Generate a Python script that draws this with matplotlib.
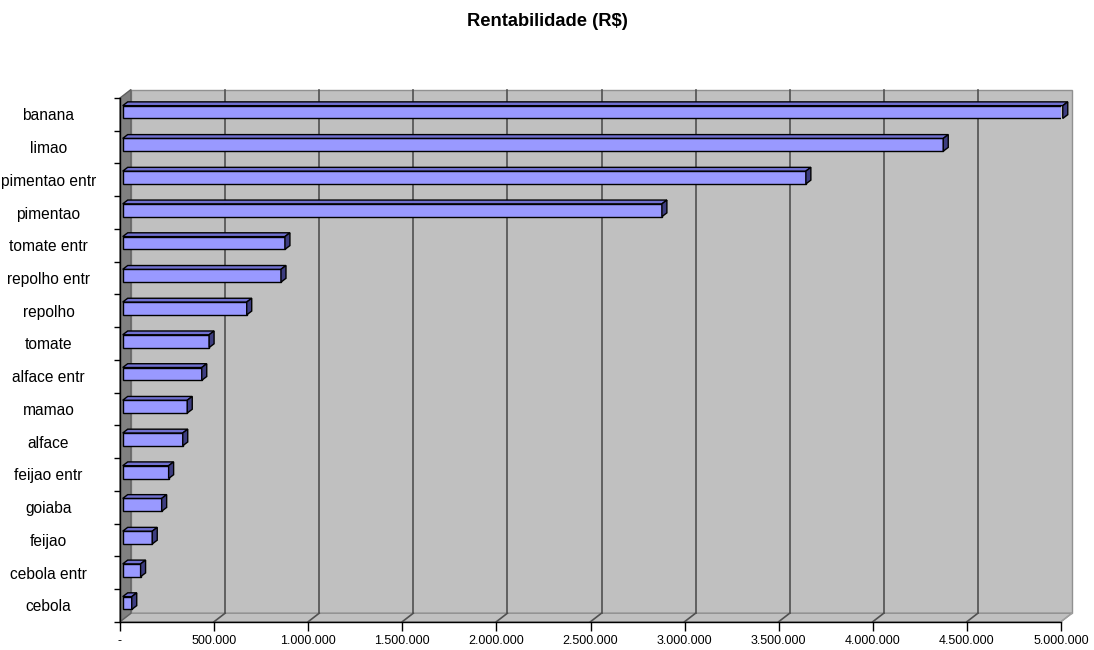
import matplotlib.pyplot as plt
from matplotlib.patches import Polygon

# data (top to bottom as shown in the chart)
culturas = ['banana', 'limao', 'pimentao entr', 'pimentao', 'tomate entr',
            'repolho entr', 'repolho', 'tomate', 'alface entr', 'mamao',
            'alface', 'feijao entr', 'goiaba', 'feijao', 'cebola entr', 'cebola']
rentabilidade = [4995000, 4360000, 3630000, 2865000, 862000,
                 841000, 659000, 459000, 420000, 343000,
                 319000, 244000, 207000, 157000, 95000, 48000]
xticks = [0, 500000, 1000000, 1500000, 2000000, 2500000,
          3000000, 3500000, 4000000, 4500000, 5000000]

plt.rcParams['font.family'] = ['Liberation Sans', 'DejaVu Sans']

fig = plt.figure(figsize=(10.94, 6.5), dpi=100)
W, H = 1094, 650
# front plane of the plot, in pixels
x0, x1, ybot, ytop = 120, 1061, 621.7, 98
ax = fig.add_axes([x0 / W, (H - ybot) / H, (x1 - x0) / W, (ybot - ytop) / H])
xmax = 5000000
n = len(culturas)
ax.set_xlim(0, xmax)
ax.set_ylim(0, n)
ax.patch.set_visible(False)

# pixel -> data helpers
sx = xmax / (x1 - x0)
sy = n / (ybot - ytop)
DX, DY = 11 * sx, 8.5 * sy          # full depth of the 3d box
OX, OY = 2.7 * sx, 2.3 * sy          # bar front offset
BX, BY = 5 * sx, 3.8 * sy            # bar depth
bh = 12.8 * sy                        # bar height

# back wall
ax.add_patch(Polygon([(DX, DY), (xmax + DX, DY), (xmax + DX, n + DY), (DX, n + DY)],
                     closed=True, facecolor='#C0C0C0', edgecolor='#909090', lw=1,
                     clip_on=False, zorder=0))
# floor
ax.add_patch(Polygon([(0, 0), (xmax, 0), (xmax + DX, DY), (DX, DY)],
                     closed=True, facecolor='#C0C0C0', edgecolor='#909090', lw=1,
                     clip_on=False, zorder=0))
# left side wall
ax.add_patch(Polygon([(0, 0), (DX, DY), (DX, n + DY), (0, n)],
                     closed=True, facecolor='#808080', edgecolor='#606060', lw=1,
                     clip_on=False, zorder=1))

# gridlines on the back wall + floor
for v in xticks[1:-1]:
    ax.plot([v + DX, v + DX], [DY, n + DY], color='#505050', lw=1.2, zorder=1, clip_on=False)
    ax.plot([v, v + DX], [0, DY], color='#505050', lw=1.2, zorder=1, clip_on=False)
ax.plot([xmax, xmax + DX], [0, DY], color='#A0A0A0', lw=1, zorder=1, clip_on=False)

# bars: front face, top face and side face
vals = rentabilidade[::-1]
for i, v in enumerate(vals):
    yb = i + 0.5 - bh / 2 + OY
    yt = yb + bh
    ax.barh(yb, v, left=OX, height=bh, align='edge', color='#9999FF',
            edgecolor='black', lw=1, zorder=3)
    ax.add_patch(Polygon([(OX, yt), (OX + v, yt), (OX + v + BX, yt + BY), (OX + BX, yt + BY)],
                         closed=True, facecolor='#7070D0', edgecolor='black', lw=1,
                         zorder=3, clip_on=False))
    ax.add_patch(Polygon([(OX + v, yb), (OX + v + BX, yb + BY), (OX + v + BX, yt + BY), (OX + v, yt)],
                         closed=True, facecolor='#3D3D80', edgecolor='black', lw=1,
                         zorder=3, clip_on=False))

# axes
for s in ['top', 'right']:
    ax.spines[s].set_visible(False)
for s in ['bottom', 'left']:
    ax.spines[s].set_color('black')
    ax.spines[s].set_linewidth(1)
    ax.spines[s].set_zorder(5)

ax.set_xticks(xticks)
ax.set_xticklabels(['-'] + [f'{v:,.0f}'.replace(',', '.') for v in xticks[1:]], fontsize=9)
ax.tick_params(axis='x', direction='out', length=6.5, width=1, color='black', pad=3)

ax.set_yticks([i + 0.5 for i in range(n)])
ax.set_yticklabels(culturas[::-1], fontsize=11.2, ha='center')
ax.set_yticks(range(n + 1), minor=True)
ax.tick_params(axis='y', which='major', length=0, pad=51.5)
ax.tick_params(axis='y', which='minor', direction='out', length=4.3, width=1, color='black')

fig.text(0.5, 1 - 21 / H, 'Rentabilidade (R$)', ha='center', va='center',
         fontsize=13.2, fontweight='bold')

fig.savefig('out.png', dpi=100, facecolor='white')
